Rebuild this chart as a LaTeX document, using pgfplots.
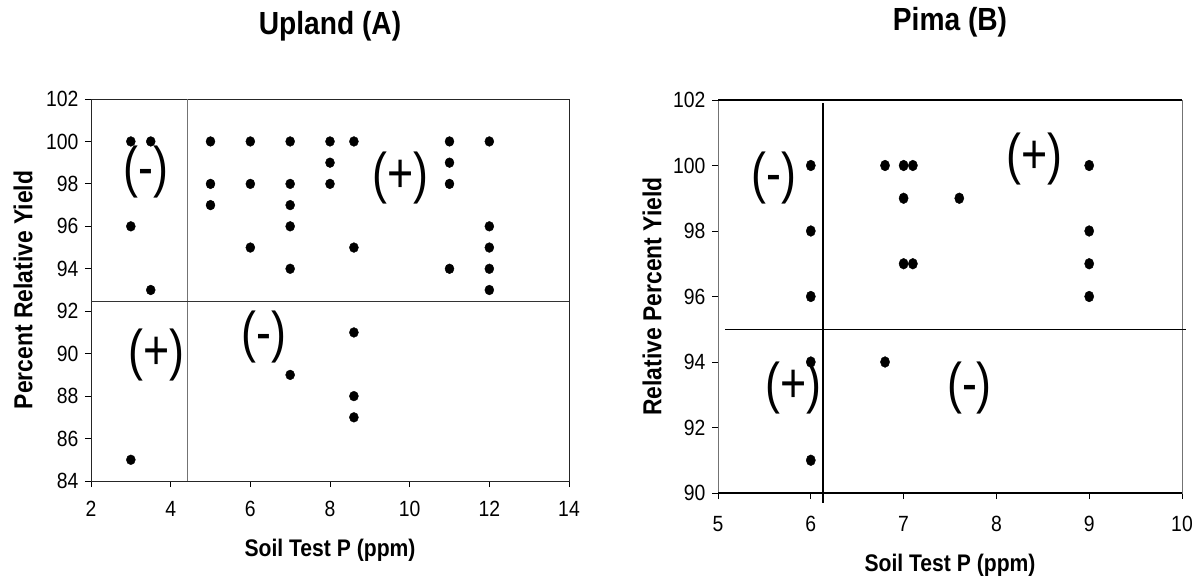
\documentclass[border=0pt]{standalone}
\usepackage{fontspec}
\setmainfont[FakeStretch=0.88]{Liberation Sans}
\newfontfamily\labfont[FakeStretch=0.8]{Liberation Sans}
\usepackage{pgfplots}
\pgfplotsset{compat=1.18}
\usepackage{pgfplotstable}

\pgfplotstableread{
x y
3 100
3 96
3 85
3.5 100
3.5 93
5 100
5 98
5 97
6 100
6 98
6 95
7 100
7 98
7 97
7 96
7 94
7 89
8 100
8 99
8 98
8.6 100
8.6 95
8.6 91
8.6 88
8.6 87
11 100
11 99
11 98
11 94
12 100
12 96
12 95
12 94
12 93
}\upland

\pgfplotstableread{
x y
6 100
6 98
6 96
6 94
6 91
6.8 100
6.8 94
7 100
7 99
7 97
7.1 100
7.1 97
7.6 99
9 100
9 98
9 97
9 96
}\pima

\newcommand{\tickfont}{\fontsize{22bp}{25bp}\selectfont}
\newcommand{\xlabfont}{\fontsize{24bp}{28bp}\selectfont\bfseries}
\newcommand{\ylabfont}{\fontsize{26bp}{30bp}\selectfont\bfseries}
\newcommand{\titlefont}{\fontsize{32bp}{36bp}\selectfont\bfseries}
\newcommand{\signfont}{\labfont\fontsize{56bp}{60bp}\selectfont}

\pgfplotsset{
  common/.style={
    scale only axis,
    anchor=south west,
    clip=false,
    tick align=outside,
    xtick pos=left,
    ytick pos=left,
    major tick length=6bp,
    tick style={black, line width=0.8bp},
    ticklabel style={font=\tickfont},
    yticklabel style={xshift=-3bp},
    /pgf/number format/assume math mode=true,
    xlabel style={font=\xlabfont, at={(axis description cs:0.5,0)}, anchor=center},
    ylabel style={font=\ylabfont, at={(axis description cs:0,0.5)}, anchor=center},
  }
}

\begin{document}
\begin{tikzpicture}
\path[use as bounding box] (0,0) rectangle (1203bp,586bp);

% Left: Upland
\begin{axis}[common,
  at={(91bp,105bp)}, width=478bp, height=382bp,
  xmin=2, xmax=14, ymin=84, ymax=102,
  xtick={2,4,6,8,10,12,14}, ytick={84,86,...,102},
  xticklabel style={yshift=-11bp},
  axis line style={black!85, line width=0.8bp},
  xlabel={Soil Test P (ppm)}, ylabel={Percent Relative Yield},
  xlabel style={yshift=-69bp}, ylabel style={yshift=68bp},
]
\draw[black!55, line width=1.3bp] (axis cs:4.42,84) -- (axis cs:4.42,102);
\draw[black!80, line width=1.1bp] (axis cs:2,92.46) -- (axis cs:14,92.46);
\addplot[only marks, mark=*, mark size=4.9bp, black, mark options={xscale=0.92}] table {\upland};
\node[font=\signfont] at (axis cs:3.39,98.57) {(-)};
\node[font=\signfont] at (axis cs:9.78,98.27) {(+)};
\node[font=\signfont] at (axis cs:3.64,89.92) {(+)};
\node[font=\signfont] at (axis cs:6.34,90.79) {(-)};
\end{axis}

% Right: Pima
\begin{axis}[common,
  at={(718bp,93bp)}, width=464bp, height=393bp,
  xmin=5, xmax=10, ymin=90, ymax=102,
  xtick={5,6,...,10}, ytick={90,92,...,102},
  xticklabel style={yshift=-14bp},
  axis line style={black!55, line width=0.8bp},
  xlabel={Soil Test P (ppm)}, ylabel={Relative Percent Yield},
  xlabel style={yshift=-72bp}, ylabel style={yshift=66bp},
]
\draw[black, line width=2.2bp] (rel axis cs:0,0) -- (rel axis cs:1,0);
\draw[black, line width=2.2bp] (rel axis cs:0,1) -- (rel axis cs:1,1);
\draw[black, line width=1.3bp] (axis cs:6.13,89.7) -- (axis cs:6.13,101.9);
\draw[black, line width=1.3bp] (axis cs:5.08,95) -- (axis cs:10.04,95);
\addplot[only marks, mark=*, mark size=5.4bp, black, mark options={xscale=0.85}] table {\pima};
\node[font=\signfont] at (axis cs:5.6,99.62) {(-)};
\node[font=\signfont] at (axis cs:8.41,100.2) {(+)};
\node[font=\signfont] at (axis cs:5.81,93.2) {(+)};
\node[font=\signfont] at (axis cs:7.71,93.2) {(-)};
\end{axis}

\node[font=\titlefont] at (330bp,560bp) {Upland (A)};
\node[font=\titlefont] at (950bp,564bp) {Pima (B)};
\end{tikzpicture}
\end{document}
